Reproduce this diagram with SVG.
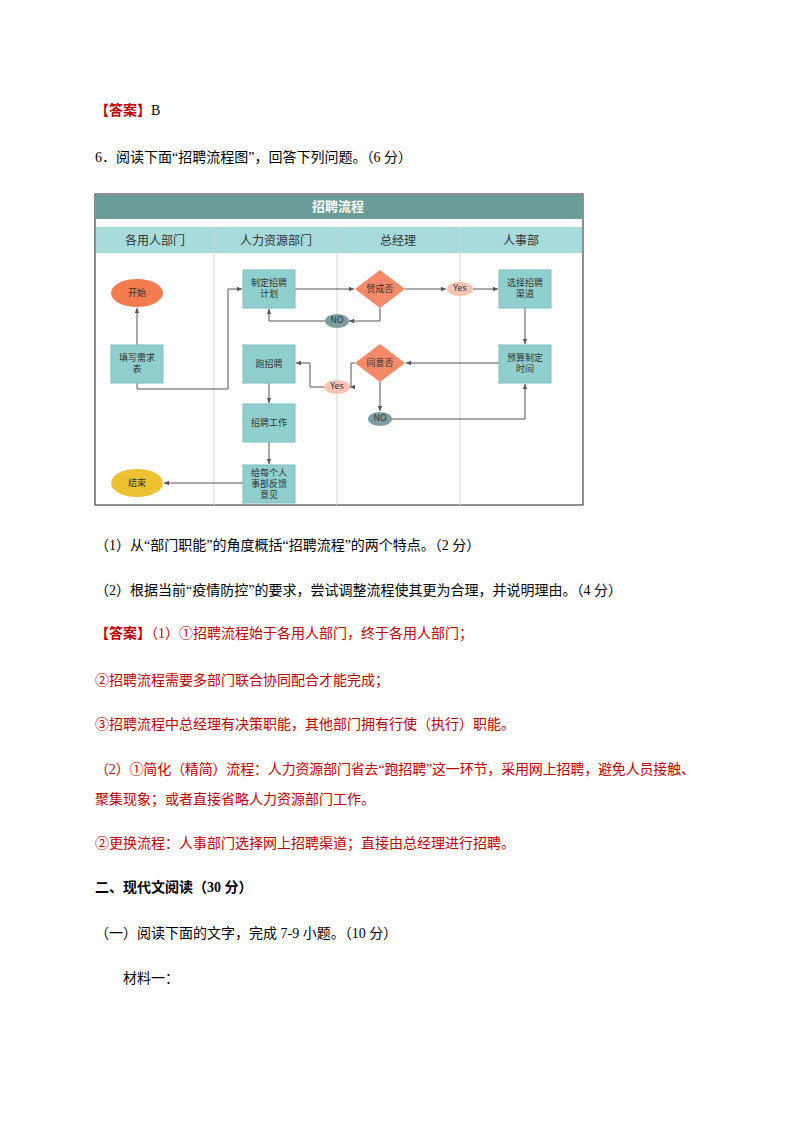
<svg xmlns="http://www.w3.org/2000/svg" width="794" height="1123" viewBox="0 0 794 1123">
<style>
.t{font-family:"Liberation Serif","Noto Sans CJK SC",serif;font-size:14px;fill:#000}
.r{fill:#c00000}
.b{font-weight:bold}
.box{fill:#8fd0cf;stroke:#7fbcbc;stroke-width:1}
.dia{fill:#f48a6a}
.nl{font-family:"Noto Sans CJK SC",sans-serif;font-size:9px;fill:#333;text-anchor:middle}
.hd{font-family:"Noto Sans CJK SC",sans-serif;font-size:12px;fill:#333;text-anchor:middle}
.c path{fill:none;stroke:#555;stroke-width:1;marker-end:url(#a)}
.lane{stroke:#c8d8d8;stroke-width:1}
</style>
<defs><marker id="a" markerWidth="6" markerHeight="6" refX="5" refY="3" orient="auto"><path d="M0,0.8 L5,3 L0,5.2z" fill="#555"/></marker></defs>
<rect width="794" height="1123" fill="#fff"/>
<text class="t" x="95" y="115"><tspan class="r b">【答案】</tspan>B</text>
<text class="t" x="95" y="162">6．阅读下面“招聘流程图”，回答下列问题。（6 分）</text>

<g id="chart">
<rect x="95" y="194" width="488" height="311" fill="#fff" stroke="#222" stroke-width="1"/>
<rect x="96" y="195" width="486" height="24" fill="#6a9c9a"/>
<text x="338" y="211" text-anchor="middle" font-family="Noto Sans CJK SC,sans-serif" font-size="13" font-weight="bold" fill="#fff">招聘流程</text>
<rect x="96" y="227" width="486" height="26" fill="#a8dbdc"/>
<line class="lane" x1="214" y1="227" x2="214" y2="505"/>
<line class="lane" x1="337" y1="227" x2="337" y2="505"/>
<line class="lane" x1="460" y1="227" x2="460" y2="505"/>
<text class="hd" x="155" y="245">各用人部门</text>
<text class="hd" x="276" y="245">人力资源部门</text>
<text class="hd" x="398" y="245">总经理</text>
<text class="hd" x="521" y="245">人事部</text>
</g>
<g class="c" id="connectors">
<path d="M137,345 V308"/>
<path d="M137,383 V389 H228 V289 H242"/>
<path d="M295,289 H354"/>
<path d="M405,289 H446"/>
<path d="M473,289 H498"/>
<path d="M380,308 V321 H349"/>
<path d="M325,321 H269 V309"/>
<path d="M525,308 V344"/>
<path d="M499,363 H406"/>
<path d="M355,363 H351 V387 H350"/>
<path d="M324,387 H310 V363 H296"/>
<path d="M380,382 V411"/>
<path d="M392,419 H525 V384"/>
<path d="M269,383 V403"/>
<path d="M269,442 V464"/>
<path d="M243,483 H164"/>
</g>
<g id="start"><ellipse cx="137" cy="293" rx="26" ry="14" fill="#f47b50"/><text class="nl" x="137" y="296">开始</text></g>
<g id="fill"><rect class="box" x="111" y="345" width="52" height="38"/><text class="nl" x="137" y="361">填写需求</text><text class="nl" x="137" y="372">表</text></g>
<g id="plan"><rect class="box" x="243" y="270" width="52" height="38"/><text class="nl" x="269" y="286">制定招聘</text><text class="nl" x="269" y="297">计划</text></g>
<g id="approve"><path class="dia" d="M380,270 L405,289 L380,308 L355,289z"/><text class="nl" x="380" y="292">赞成否</text></g>
<g id="yes1"><ellipse cx="460" cy="289" rx="13" ry="7" fill="#f8c3b3"/><text class="nl" x="460" y="291" font-size="6">Yes</text></g>
<g id="channel"><rect class="box" x="499" y="270" width="52" height="38"/><text class="nl" x="525" y="286">选择招聘</text><text class="nl" x="525" y="297">渠道</text></g>
<g id="no1"><ellipse cx="337" cy="321" rx="12" ry="7" fill="#7f9ea3"/><text class="nl" x="337" y="323" font-size="6">NO</text></g>
<g id="run"><rect class="box" x="243" y="345" width="52" height="38"/><text class="nl" x="269" y="367">跑招聘</text></g>
<g id="agree"><path class="dia" d="M380,344 L405,363 L380,382 L355,363z"/><text class="nl" x="380" y="366">同意否</text></g>
<g id="budget"><rect class="box" x="499" y="345" width="52" height="38"/><text class="nl" x="525" y="361">预算制定</text><text class="nl" x="525" y="372">时间</text></g>
<g id="yes2"><ellipse cx="337" cy="387" rx="13" ry="7" fill="#f8c3b3"/><text class="nl" x="337" y="389" font-size="6">Yes</text></g>
<g id="no2"><ellipse cx="380" cy="419" rx="12" ry="7" fill="#7f9ea3"/><text class="nl" x="380" y="421" font-size="6">NO</text></g>
<g id="work"><rect class="box" x="243" y="404" width="52" height="38"/><text class="nl" x="269" y="426">招聘工作</text></g>
<g id="feedback"><rect class="box" x="243" y="465" width="52" height="38"/><text class="nl" x="269" y="476">给每个人</text><text class="nl" x="269" y="487">事部反馈</text><text class="nl" x="269" y="498">意见</text></g>
<g id="end"><ellipse cx="137" cy="483" rx="26" ry="14" fill="#edc232"/><text class="nl" x="137" y="486">结束</text></g>

<text class="t" x="95" y="550">（1）从“部门职能”的角度概括“招聘流程”的两个特点。（2 分）</text>
<text class="t" x="95" y="595">（2）根据当前“疫情防控”的要求，尝试调整流程使其更为合理，并说明理由。（4 分）</text>
<text class="t r" x="95" y="638"><tspan class="b">【答案】</tspan>（1）①招聘流程始于各用人部门，终于各用人部门；</text>
<text class="t r" x="95" y="685">②招聘流程需要多部门联合协同配合才能完成；</text>
<text class="t r" x="95" y="729">③招聘流程中总经理有决策职能，其他部门拥有行使（执行）职能。</text>
<text class="t r" x="95" y="774" textLength="600">（2）①简化（精简）流程：人力资源部门省去“跑招聘”这一环节，采用网上招聘，避免人员接触、</text>
<text class="t r" x="95" y="804">聚集现象；或者直接省略人力资源部门工作。</text>
<text class="t r" x="95" y="848">②更换流程：人事部门选择网上招聘渠道；直接由总经理进行招聘。</text>
<text class="t b" x="95" y="892">二、现代文阅读（30 分）</text>
<text class="t" x="95" y="938">（一）阅读下面的文字，完成 7-9 小题。（10 分）</text>
<text class="t" x="123" y="983">材料一：</text>
</svg>
